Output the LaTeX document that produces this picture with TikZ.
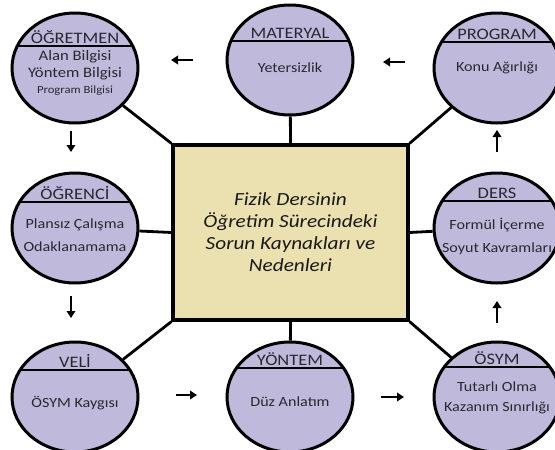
\documentclass[tikz,border=0pt]{standalone}
\usepackage{fontspec}
\setmainfont{Carlito}[FakeStretch=1.15]
\usetikzlibrary{shapes.geometric,arrows.meta}

\definecolor{circfill}{RGB}{191,186,219}
\definecolor{boxfill}{RGB}{235,224,176}
\definecolor{textcol}{RGB}{40,40,48}

\begin{document}
\begin{tikzpicture}[x=1pt,y=-1pt,
	main node/.style={ellipse,draw,line width=3pt,fill=circfill,minimum width=126pt,minimum height=110pt,inner sep=0pt},
	divider/.style={path picture={\draw[line width=2.4pt] ([yshift=#1]path picture bounding box.west) -- ([yshift=#1]path picture bounding box.east);}},
	head/.style={anchor=base,inner sep=0pt,font=\fontsize{16}{16}\selectfont,text=textcol},
	body/.style={align=center,inner sep=0pt,font=\fontsize{14}{23}\selectfont,text=textcol},
	link/.style={line width=2.8pt},
	flow/.style={-{Triangle[width=8.5pt,length=7pt]},line width=2.4pt}]
	
	\clip[use as bounding box] (0,0) rectangle (555,450);
	
	% centre
	\node[draw,line width=3.2pt,fill=boxfill,minimum width=235pt,minimum height=175pt,align=center,
	font=\fontsize{18.5}{22}\selectfont\itshape,text=black!90] (box) at (290.5,232.5)
	{Fizik Dersinin\\Öğretim Sürecindeki\\Sorun Kaynakları ve\\Nedenleri};
	
	% circles
	\node[main node,divider=22pt] (ogretmen) at (75,68) {};
	\node[main node,divider=19pt] (materyal) at (290,60) {};
	\node[main node,divider=26pt] (program) at (497,68) {};
	\node[main node,divider=26pt] (ogrenci) at (75,228) {};
	\node[main node,divider=27pt] (ders) at (497,228) {};
	\node[main node,divider=27pt] (veli) at (75,397) {};
	\node[main node,divider=29pt] (yontem) at (290,397) {};
	\node[main node,divider=30pt] (osym) at (497,397) {};
	
	% titles
	\node[head] (ogretmen-h) at ([yshift=25pt]ogretmen.center) {ÖĞRETMEN};
	\node[head] (materyal-h) at ([yshift=22pt]materyal.center) {MATERYAL};
	\node[head] (program-h) at ([yshift=29pt]program.center) {PROGRAM};
	\node[head] (ogrenci-h) at ([yshift=29pt]ogrenci.center) {ÖĞRENCİ};
	\node[head] (ders-h) at ([yshift=30pt]ders.center) {DERS};
	\node[head] (veli-h) at ([yshift=30pt]veli.center) {VELİ};
	\node[head] (yontem-h) at ([yshift=32pt]yontem.center) {YÖNTEM};
	\node[head] (osym-h) at ([yshift=33pt]osym.center) {ÖSYM};
	
	% contents
	\node[body,font=\fontsize{14.5}{16.5}\selectfont] (ogretmen-b) at ([yshift=-5pt]ogretmen.center)
	{Alan Bilgisi\\Yöntem Bilgisi\\{\fontsize{11}{12}\selectfont Program Bilgisi}};
	\node[body] (materyal-b) at ([yshift=-8pt]materyal.center) {Yetersizlik};
	\node[body] (program-b) at (program.center) {Konu Ağırlığı};
	\node[body] (ogrenci-b) at ([yshift=-7pt]ogrenci.center) {Plansız Çalışma\\Odaklanamama};
	\node[body] (ders-b) at ([yshift=-8pt]ders.center) {Formül İçerme\\Soyut Kavramları};
	\node[body] (veli-b) at ([yshift=-6pt]veli.center) {ÖSYM Kaygısı};
	\node[body] (yontem-b) at ([yshift=-5pt]yontem.center) {Düz Anlatım};
	\node[body,font=\fontsize{14}{20}\selectfont] (osym-b) at ([yshift=-1pt]osym.center) {Tutarlı Olma\\Kazanım Sınırlığı};
	
	% links to the centre
	\path[link]
	(box.north west) edge (ogretmen)
	(box.north) edge (materyal)
	(box.north east) edge (program)
	(box.west) edge (ogrenci)
	(box.east) edge (ders)
	(box.south west) edge (veli)
	(box.south) edge (yontem)
	(box.south east) edge (osym);
	
	% flow arrows
	\coordinate (a1) at (193,60);  \coordinate (b1) at (171,60);
	\coordinate (a2) at (405,62);  \coordinate (b2) at (383,62);
	\coordinate (a3) at (71,131);  \coordinate (b3) at (71,152);
	\coordinate (a4) at (71,296);  \coordinate (b4) at (71,318);
	\coordinate (a5) at (176,395); \coordinate (b5) at (197,395);
	\coordinate (a6) at (381,397); \coordinate (b6) at (404,397);
	\coordinate (a7) at (497,323); \coordinate (b7) at (497,301);
	\coordinate (a8) at (497,152); \coordinate (b8) at (497,130);
	\foreach \i in {1,...,8}
	\draw[flow] (a\i) -- (b\i);
\end{tikzpicture}
\end{document}
